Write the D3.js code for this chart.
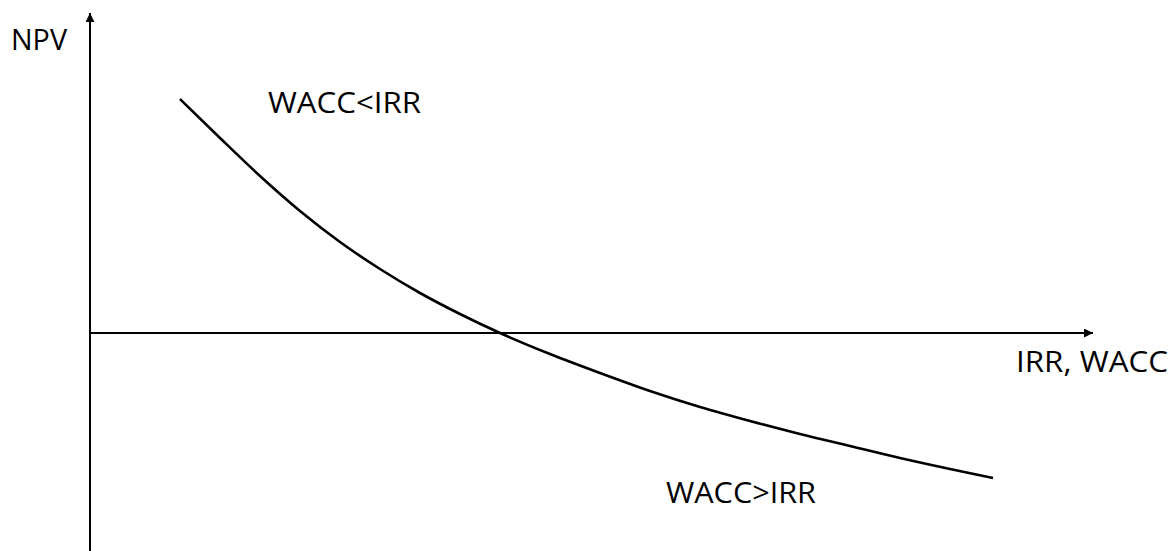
<!DOCTYPE html>
<html>
<head>
<meta charset="utf-8">
<script src="https://cdn.jsdelivr.net/npm/d3@7"></script>
<style>
html, body { margin: 0; padding: 0; background: #fff; }
svg { display: block; }
text { font-family: "Open Sans", "Noto Sans", sans-serif; fill: #000; }
</style>
</head>
<body>
<svg id="chart" width="1172" height="551"></svg>
<script>
// Rate (IRR / WACC, arbitrary units) and NPV (arbitrary units) along the NPV profile
const rates = [0.90, 1.30, 1.70, 2.10, 2.50, 2.90, 3.30, 3.70, 4.10, 4.60, 5.10, 5.60, 6.10, 6.60, 7.10, 7.60, 8.10, 8.60, 9.03];
const npv   = [23.4, 19.5, 15.7, 12.2, 9.1, 6.4, 4.0, 1.9, 0.0, -2.1, -4.0, -5.8, -7.4, -8.8, -10.1, -11.3, -12.5, -13.6, -14.5];
const axisLabels = ["NPV", "IRR, WACC"];
const regionLabels = ["WACC<IRR", "WACC>IRR"];

const svg = d3.select("#chart");
const x = d3.scaleLinear().domain([0, 10.03]).range([90, 1093]);
const y = d3.scaleLinear().domain([-21.8, 32.0]).range([551, 13]);

// arrowhead marker
const defs = svg.append("defs");
defs.append("marker")
  .attr("id", "arrow")
  .attr("viewBox", "0 0 10 10")
  .attr("refX", 10).attr("refY", 5)
  .attr("markerWidth", 12).attr("markerHeight", 9)
  .attr("markerUnits", "userSpaceOnUse")
  .attr("orient", "auto")
  .append("path").attr("d", "M0,0 L10,5 L0,10 Z").attr("fill", "#000");

// y axis (NPV)
svg.append("line")
  .attr("x1", x(0)).attr("x2", x(0))
  .attr("y1", y(-21.8)).attr("y2", y(32.0))
  .attr("stroke", "#000").attr("stroke-width", 2)
  .attr("marker-end", "url(#arrow)");

// x axis (rate)
svg.append("line")
  .attr("x1", x(0)).attr("x2", x(10.03))
  .attr("y1", y(0)).attr("y2", y(0))
  .attr("stroke", "#000").attr("stroke-width", 2)
  .attr("marker-end", "url(#arrow)");

// NPV profile curve
const pts = rates.map((r, i) => [r, npv[i]]);
svg.append("path")
  .datum(pts)
  .attr("fill", "none")
  .attr("stroke", "#000")
  .attr("stroke-width", 2.6)
  .attr("d", d3.line().x(d => x(d[0])).y(d => y(d[1])).curve(d3.curveMonotoneX));

function label(t, px, py, w) {
  svg.append("text")
    .attr("x", px).attr("y", py)
    .attr("font-size", 30)
    .attr("textLength", w)
    .attr("lengthAdjust", "spacingAndGlyphs")
    .text(t);
}
label(axisLabels[0], 11, 50, 56);
label(axisLabels[1], 1016, 372, 152);
label(regionLabels[0], 268, 113, 153);
label(regionLabels[1], 666, 503, 150);
</script>
</body>
</html>
